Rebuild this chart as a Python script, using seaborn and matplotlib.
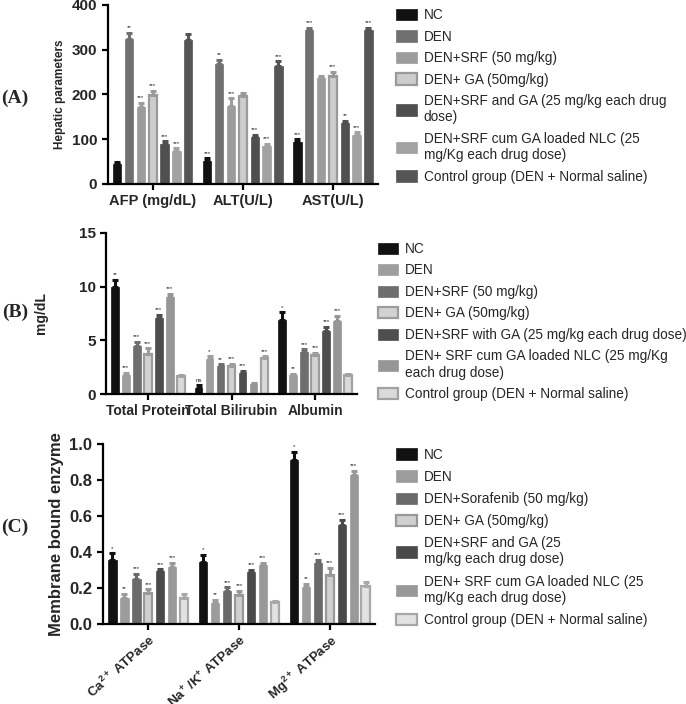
import numpy as np
import pandas as pd
import matplotlib
matplotlib.use("Agg")
import matplotlib.pyplot as plt
import seaborn as sns
from matplotlib.patches import Patch

sns.set_style("ticks")
plt.rcParams["font.family"] = ["Liberation Sans", "DejaVu Sans"]
plt.rcParams["mathtext.fontset"] = "custom"
plt.rcParams["mathtext.bf"] = "Liberation Sans:bold"
plt.rcParams["mathtext.rm"] = "Liberation Sans:bold"
plt.rcParams["mathtext.default"] = "bf"

GROUPS = ["NC", "DEN", "SRF", "GA", "SRF_GA", "NLC", "Control"]

# ---- Panel A: hepatic parameters
A_params = ["AFP (mg/dL)", "ALT(U/L)", "AST(U/L)"]
A_vals = {
    "NC":      [44, 50, 94],
    "DEN":     [323, 267, 343],
    "SRF":     [171, 175, 236],
    "GA":      [199, 196, 240],
    "SRF_GA":  [90, 104, 136],
    "NLC":     [74, 84, 110],
    "Control": [321, 264, 343],
}
A_err = {
    "NC":      [4, 7, 5],
    "DEN":     [15, 10, 6],
    "SRF":     [10, 16, 6],
    "GA":      [9, 7, 11],
    "SRF_GA":  [5, 5, 5],
    "NLC":     [5, 5, 5],
    "Control": [14, 10, 6],
}
A_stars = {
    "NC":      ["", "***", "***"],
    "DEN":     ["**", "**", "***"],
    "SRF":     ["***", "***", ""],
    "GA":      ["***", "", "***"],
    "SRF_GA":  ["***", "***", "**"],
    "NLC":     ["***", "***", "***"],
    "Control": ["", "***", "***"],
}
A_labels = ["NC", "DEN", "DEN+SRF (50 mg/kg)", "DEN+ GA (50mg/kg)",
            "DEN+SRF and GA (25 mg/kg each drug\ndose)",
            "DEN+SRF cum GA loaded NLC (25\nmg/Kg each drug dose)",
            "Control group (DEN + Normal saline)"]

# ---- Panel B: serum proteins
B_params = ["Total Protein", "Total Bilirubin", "Albumin"]
B_vals = {
    "NC":      [10.0, 0.6, 6.9],
    "DEN":     [1.8, 3.3, 1.75],
    "SRF":     [4.45, 2.6, 3.9],
    "GA":      [3.7, 2.6, 3.6],
    "SRF_GA":  [7.1, 1.95, 5.9],
    "NLC":     [9.0, 0.9, 6.8],
    "Control": [1.7, 3.35, 1.75],
}
B_err = {
    "NC":      [0.6, 0.2, 0.7],
    "DEN":     [0.15, 0.2, 0.15],
    "SRF":     [0.4, 0.15, 0.25],
    "GA":      [0.55, 0.2, 0.2],
    "SRF_GA":  [0.25, 0.2, 0.35],
    "NLC":     [0.35, 0.1, 0.45],
    "Control": [0.1, 0.15, 0.1],
}
B_stars = {
    "NC":      ["**", "ns", "*"],
    "DEN":     ["***", "*", "**"],
    "SRF":     ["***", "**", "***"],
    "GA":      ["***", "***", "***"],
    "SRF_GA":  ["***", "***", "***"],
    "NLC":     ["***", "", "***"],
    "Control": ["", "***", ""],
}
B_labels = ["NC", "DEN", "DEN+SRF (50 mg/kg)", "DEN+ GA (50mg/kg)",
            "DEN+SRF with GA (25 mg/kg each drug dose)",
            "DEN+ SRF cum GA loaded NLC (25 mg/Kg\neach drug dose)",
            "Control group (DEN + Normal saline)"]

# ---- Panel C: membrane bound enzymes
C_params = ["Ca$^{2+}$ ATPase", "Na$^{+}$ /K$^{+}$ ATPase", "Mg$^{2+}$ ATPase"]
C_vals = {
    "NC":      [0.355, 0.346, 0.91],
    "DEN":     [0.143, 0.115, 0.204],
    "SRF":     [0.25, 0.183, 0.337],
    "GA":      [0.174, 0.163, 0.274],
    "SRF_GA":  [0.294, 0.289, 0.548],
    "NLC":     [0.318, 0.33, 0.83],
    "Control": [0.143, 0.12, 0.213],
}
C_err = {
    "NC":      [0.037, 0.04, 0.045],
    "DEN":     [0.024, 0.02, 0.02],
    "SRF":     [0.03, 0.02, 0.02],
    "GA":      [0.018, 0.02, 0.04],
    "SRF_GA":  [0.01, 0.01, 0.03],
    "NLC":     [0.022, 0.01, 0.02],
    "Control": [0.026, 0.01, 0.02],
}
C_stars = {
    "NC":      ["*", "*", "*"],
    "DEN":     ["**", "**", "**"],
    "SRF":     ["***", "***", "***"],
    "GA":      ["***", "***", "***"],
    "SRF_GA":  ["***", "***", "***"],
    "NLC":     ["***", "***", "***"],
    "Control": ["", "", ""],
}
C_labels = ["NC", "DEN", "DEN+Sorafenib (50 mg/kg)", "DEN+ GA (50mg/kg)",
            "DEN+SRF and GA (25\nmg/kg each drug dose)",
            "DEN+ SRF cum GA loaded NLC (25\nmg/Kg each drug dose)",
            "Control group (DEN + Normal saline)"]

# face / edge colours per group (greyscale GraphPad style)
A_face = ["#111111", "#707070", "#9c9c9c", "#cdcdcd", "#4f4f4f", "#a2a2a2", "#555555"]
A_edge = ["#111111", "#707070", "#9c9c9c", "#9a9a9a", "#4f4f4f", "#a2a2a2", "#555555"]
B_face = ["#111111", "#9e9e9e", "#6e6e6e", "#d2d2d2", "#4e4e4e", "#969696", "#dadada"]
B_edge = ["#111111", "#9e9e9e", "#6e6e6e", "#9c9c9c", "#4e4e4e", "#969696", "#a2a2a2"]
C_face = ["#111111", "#9c9c9c", "#6a6a6a", "#d0d0d0", "#4a4a4a", "#999999", "#e2e2e2"]
C_edge = ["#111111", "#9c9c9c", "#6a6a6a", "#999999", "#4a4a4a", "#999999", "#a8a8a8"]


def to_long(params, vals):
    rows = []
    for g in GROUPS:
        for p, v in zip(params, vals[g]):
            rows.append({"param": p, "group": g, "value": v})
    return pd.DataFrame(rows)


def draw_panel(ax, params, vals, errs, stars, face, edge, ymax, yticks, star_off):
    df = to_long(params, vals)
    sns.barplot(data=df, x="param", y="value", hue="group", hue_order=GROUPS,
                palette=face, errorbar=None, gap=0.3, width=0.92,
                saturation=1, legend=False, ax=ax)
    for i, (g, cont) in enumerate(zip(GROUPS, ax.containers)):
        for j, bar in enumerate(cont):
            bar.set_edgecolor(edge[i])
            bar.set_linewidth(1.6 if face[i] != edge[i] else 0.5)
            xc = bar.get_x() + bar.get_width() / 2
            top = bar.get_height()
            e = errs[g][j]
            ax.errorbar(xc, top, yerr=[[0], [e]], fmt="none", ecolor=edge[i],
                        elinewidth=2.2, capsize=2.5, capthick=2.2, zorder=3)
            if stars[g][j]:
                ax.text(xc, top + e + star_off, stars[g][j], ha="center",
                        va="bottom", fontsize=4.5, color="#222222")
    ax.set_ylim(0, ymax)
    ax.set_yticks(yticks)
    ax.set_xlim(-0.5, 2.5)
    ax.set_xlabel("")
    sns.despine(ax=ax)
    for s in ["left", "bottom"]:
        ax.spines[s].set_linewidth(1.6)
        ax.spines[s].set_color("black")
    ax.tick_params(width=1.6, length=4, color="black")
    for t in ax.get_yticklabels() + ax.get_xticklabels():
        t.set_fontweight("bold")


def add_legend(fig, labels, face, edge, x, y, spacing):
    handles = [Patch(facecolor=f, edgecolor=e, linewidth=1.6 if f != e else 0.5)
               for f, e in zip(face, edge)]
    fig.legend(handles, labels, loc="upper left", bbox_to_anchor=(x, y),
               frameon=False, fontsize=9.8, handlelength=1.5, handleheight=0.9,
               handletextpad=0.5, labelspacing=spacing, borderaxespad=0)


fig = plt.figure(figsize=(6.86, 7.04), dpi=100)

axA = fig.add_axes([0.157, 0.739, 0.394, 0.254])
draw_panel(axA, A_params, A_vals, A_err, A_stars, A_face, A_edge,
           400, [0, 100, 200, 300, 400], 6)
axA.set_ylabel("Hepatic parameters", fontsize=8.5, fontweight="bold")
axA.tick_params(axis="y", labelsize=11)
axA.tick_params(axis="x", labelsize=10.5)
add_legend(fig, A_labels, A_face, A_edge, 0.570, 0.996, 0.55)

axB = fig.add_axes([0.1545, 0.4403, 0.366, 0.229])
draw_panel(axB, B_params, B_vals, B_err, B_stars, B_face, B_edge,
           15, [0, 5, 10, 15], 0.25)
axB.set_ylabel("mg/dL", fontsize=10, fontweight="bold", labelpad=22)
axB.tick_params(axis="y", labelsize=11)
axB.tick_params(axis="x", labelsize=10)
add_legend(fig, B_labels, B_face, B_edge, 0.543, 0.664, 0.55)

axC = fig.add_axes([0.150, 0.1136, 0.397, 0.2557])
draw_panel(axC, C_params, C_vals, C_err, C_stars, C_face, C_edge,
           1.0, [0.0, 0.2, 0.4, 0.6, 0.8, 1.0], 0.015)
axC.set_yticks([0.0, 0.2, 0.4, 0.6, 0.8, 1.0])
axC.set_yticklabels(["0.0", "0.2", "0.4", "0.6", "0.8", "1.0"], fontweight="bold")
axC.set_ylabel("Membrane bound enzyme", fontsize=12, fontweight="bold")
axC.tick_params(axis="y", labelsize=12)
axC.tick_params(axis="x", labelsize=9.5, pad=2)
plt.setp(axC.get_xticklabels(), rotation=42, ha="right", va="top",
         rotation_mode="anchor", fontweight="bold")
add_legend(fig, C_labels, C_face, C_edge, 0.570, 0.372, 0.6)

for lab, yy in [("(A)", 0.861), ("(B)", 0.557), ("(C)", 0.251)]:
    fig.text(0.022, yy, lab, fontsize=14, fontweight="bold",
             family=["Liberation Serif", "DejaVu Serif"], va="center", ha="center")

fig.savefig("out.png", dpi=100)
